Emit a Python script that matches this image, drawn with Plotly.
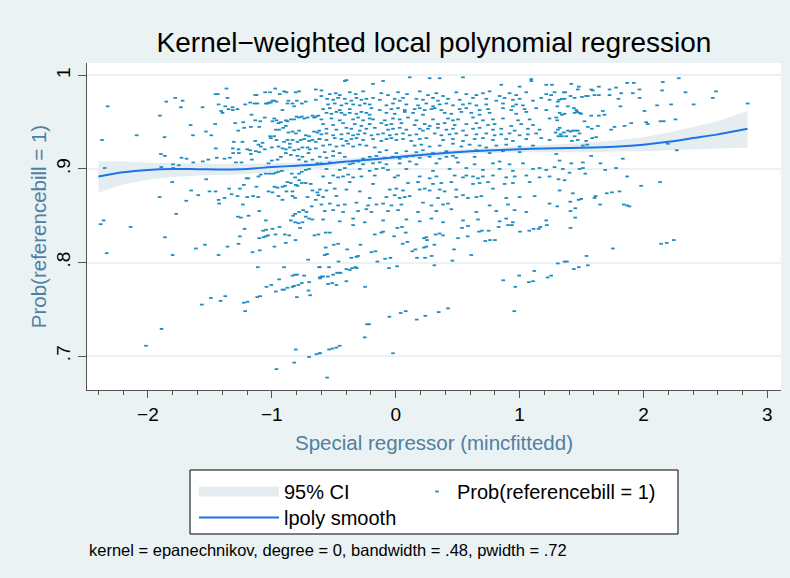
import plotly.graph_objects as go

# ---------------- data ----------------
title_text = "Kernel\u2212weighted local polynomial regression"
x_title = "Special regressor (mincfittedd)"
y_title = "Prob(referencebill = 1)"
note_text = "kernel = epanechnikov, degree = 0, bandwidth = .48, pwidth = .72"

x_tickvals = [-2, -1, 0, 1, 2, 3]
y_tickvals = [0.7, 0.8, 0.9, 1.0]
y_ticktext = [".7", ".8", ".9", "1"]

# lpoly smooth and its 95% CI
grid_x = [-2.40, -2.20, -2.00, -1.80, -1.60, -1.40, -1.20, -1.00, -0.80, -0.60, -0.40, -0.20, 0.00,
          0.20, 0.40, 0.60, 0.80, 1.00, 1.20, 1.40, 1.60, 1.80, 2.00, 2.20, 2.40, 2.60, 2.84]
smooth_y = [0.892, 0.8965, 0.899, 0.900, 0.8998, 0.8995, 0.900, 0.902, 0.9035, 0.905, 0.908, 0.910, 0.9125,
            0.915, 0.917, 0.919, 0.920, 0.921, 0.922, 0.9225, 0.923, 0.924, 0.926, 0.929, 0.933, 0.937, 0.943]
ci_upper = [0.908, 0.908, 0.907, 0.906, 0.906, 0.905, 0.9055, 0.906, 0.907, 0.909, 0.911, 0.913, 0.9155,
            0.918, 0.920, 0.922, 0.923, 0.924, 0.9255, 0.927, 0.929, 0.931, 0.934, 0.939, 0.945, 0.951, 0.962]
ci_lower = [0.8745, 0.8835, 0.8885, 0.8915, 0.893, 0.8935, 0.8945, 0.897, 0.899, 0.901, 0.905, 0.907, 0.9095,
            0.912, 0.914, 0.916, 0.917, 0.918, 0.918, 0.918, 0.918, 0.919, 0.919, 0.920, 0.921, 0.922, 0.923]

# Prob(referencebill = 1) scatter
prob_points = [
    (-2.325,0.967),(-2.371,0.931),(-2.349,0.901),(-2.358,0.845),(-2.382,0.841),
    (-2.091,0.936),(-1.903,0.957),(-1.852,0.972),(-1.780,0.976),(-1.720,0.973),(-1.734,0.966),
    (-1.866,0.934),(-1.895,0.916),(-1.863,0.914),(-1.892,0.902),(-1.804,0.886),(-1.906,0.870),
    (-1.772,0.852),(-1.691,0.866),(-1.651,0.877),(-1.594,0.872),(-1.656,0.947),(-1.637,0.936),
    (-1.729,0.912),(-1.688,0.911),(-1.798,0.905),(-1.750,0.904),(-1.796,0.901),(-1.559,0.966),
    (-1.532,0.940),(-1.489,0.936),(-1.557,0.908),(-1.513,0.910),(-1.634,0.907),(-1.530,0.889),
    (-1.503,0.876),(-1.454,0.876),(-1.457,0.948),(-1.454,0.980),(-1.436,0.980),(-1.452,0.922),
    (-1.444,0.912),(-1.430,0.969),(-1.409,0.962),(-1.398,0.960),(-1.376,0.967),(-1.358,0.976),
    (-1.317,0.966),(-1.350,0.964),(-1.315,0.963),(-1.277,0.964),(-1.366,0.986),(-1.296,0.949),
    (-1.272,0.941),(-1.231,0.950),(-1.307,0.929),(-1.237,0.929),(-1.269,0.921),(-1.266,0.917),
    (-1.312,0.917),(-1.315,0.922),(-1.382,0.911),(-1.339,0.912),(-1.290,0.907),(-1.245,0.907),
    (-1.430,0.867),(-1.425,0.863),(-1.382,0.869),(-1.344,0.879),(-1.325,0.873),(-1.277,0.871),
    (-1.258,0.879),(-1.226,0.883),(-1.204,0.890),(-1.199,0.870),(-1.190,0.890),(-1.234,0.862),
    (-1.151,0.871),(-1.110,0.870),(-1.124,0.881),(-1.161,0.910),(-1.169,0.916),(-1.175,0.920),
    (-1.199,0.921),(-1.129,0.919),(-1.102,0.918),(-1.215,0.969),(-1.175,0.971),(-1.140,0.970),
    (-1.116,0.970),(-1.134,0.979),(-1.124,0.979),(-1.164,0.958),(-1.223,0.944),(-1.169,0.945),
    (-1.134,0.952),(-1.102,0.945),(-1.094,0.951),(-1.057,0.955),(-1.134,0.930),(-1.108,0.926),
    (-1.089,0.924),(-1.075,0.928),(-1.057,0.921),(-1.014,0.935),(-1.008,0.933),(-0.981,0.935),
    (-0.962,0.931),(-0.946,0.924),(-1.000,0.923),(-1.048,0.970),(-1.035,0.970),(-1.022,0.971),
    (-1.008,0.971),(-0.995,0.973),(-0.981,0.973),(-0.962,0.972),(-1.054,0.982),(-1.014,0.982),
    (-0.973,0.986),(-0.936,0.980),(-1.108,0.892),(-1.089,0.894),(-1.048,0.895),(-1.016,0.895),
    (-0.989,0.895),(-0.968,0.896),(-0.946,0.897),(-0.919,0.898),(-1.027,0.906),(-1.000,0.909),
    (-0.954,0.910),(-0.927,0.913),(-0.979,0.881),(-0.954,0.880),(-0.914,0.881),(-0.893,0.882),
    (-0.874,0.886),(-0.847,0.885),(-1.027,0.876),(-0.995,0.875),(-0.946,0.871),(-0.914,0.867),
    (-0.882,0.876),(-0.833,0.871),(-0.807,0.883),(-0.780,0.888),(-1.102,0.855),(-1.048,0.845),
    (-1.274,0.849),(-1.250,0.848),(-1.188,0.850),(-0.828,0.850),(-0.812,0.852),(-0.780,0.854),
    (-0.747,0.856),(-0.720,0.854),(-0.678,0.860),(-0.699,0.847),(-0.672,0.846),(-0.785,0.842),
    (-0.753,0.843),
    (-0.914,0.963),(-0.874,0.970),(-0.866,0.973),(-0.833,0.970),(-0.820,0.967),(-0.798,0.973),
    (-0.780,0.983),(-0.758,0.970),(-0.726,0.972),(-0.645,0.985),(-0.645,0.974),(-0.901,0.983),
    (-0.882,0.982),(-0.807,0.982),
    (-0.995,0.951),(-0.981,0.954),(-0.962,0.952),(-0.946,0.949),(-0.927,0.950),(-0.887,0.952),
    (-0.874,0.951),(-0.847,0.953),(-0.820,0.953),(-0.801,0.956),(-0.780,0.955),(-0.758,0.956),
    (-0.739,0.954),(-0.712,0.955),(-0.672,0.957),(-0.659,0.955),(-0.645,0.956),(-0.624,0.957),
    (-0.968,0.942),(-0.941,0.942),(-0.909,0.944),(-0.887,0.946),(-0.866,0.939),(-0.833,0.940),
    (-0.807,0.938),(-0.780,0.941),(-0.726,0.936),(-0.699,0.935),(-0.659,0.940),(-0.632,0.939),
    (-0.618,0.941),
    (-0.901,0.929),(-0.874,0.931),(-0.855,0.927),(-0.833,0.931),(-0.793,0.929),(-0.766,0.931),
    (-0.739,0.932),(-0.699,0.930),(-0.672,0.931),(-0.645,0.929),(-0.618,0.932),
    (-0.914,0.922),(-0.887,0.921),(-0.855,0.923),(-0.820,0.920),(-0.785,0.921),(-0.753,0.923),
    (-0.712,0.923),(-0.694,0.921),(-0.645,0.922),
    (-0.887,0.917),(-0.847,0.915),(-0.793,0.914),(-0.753,0.913),(-0.704,0.917),
    (-0.780,0.910),(-0.726,0.908),(-0.672,0.910),(-0.632,0.906),
    (-0.839,0.895),(-0.812,0.891),(-0.780,0.895),(-0.758,0.897),(-0.726,0.899),(-0.699,0.900),
    (-0.833,0.876),(-0.793,0.882),(-0.758,0.885),(-0.726,0.885),(-0.686,0.884),(-0.672,0.877),
    (-0.632,0.875),(-0.812,0.869),(-0.712,0.870),(-0.645,0.867),(-0.624,0.872),
    (-0.847,0.845),(-0.812,0.843),(-0.726,0.849),
    # centre block
    (-0.411,0.994),(-0.398,0.995),(-0.183,0.991),(-0.102,0.994),(0.113,0.998),(0.274,0.997),
    (0.355,0.997),(0.543,0.998),(1.094,0.996),(1.094,0.994),(0.852,0.990),(1.000,0.988),
    (1.215,0.990),(1.261,0.990),(-0.600,0.984),
    (-0.600,0.978),(-0.532,0.980),(-0.484,0.981),(-0.452,0.979),(-0.371,0.982),(-0.323,0.980),
    (-0.263,0.983),(-0.116,0.981),(-0.062,0.979),(0.019,0.982),(0.091,0.980),(0.194,0.983),
    (0.261,0.979),(0.328,0.981),(0.382,0.978),(0.489,0.982),(0.570,0.980),(0.651,0.979),
    (0.704,0.981),(0.758,0.983),(0.839,0.978),(0.919,0.981),(0.973,0.979),(1.054,0.982),
    (1.215,0.980),(1.255,0.979),
    (-0.554,0.975),(-0.505,0.974),(-0.465,0.976),(-0.411,0.975),(-0.358,0.973),(-0.317,0.976),
    (-0.277,0.974),(-0.237,0.975),(-0.183,0.976),(-0.129,0.974),(-0.008,0.975),(0.032,0.973),
    (0.059,0.976),(0.167,0.975),(0.220,0.974),(0.301,0.976),(0.341,0.973),(0.422,0.975),
    (0.516,0.974),(0.624,0.976),(0.731,0.975),(0.812,0.973),(0.879,0.976),(0.946,0.974),
    (1.000,0.975),(1.108,0.973),(1.175,0.976),(1.242,0.974),
    (-0.546,0.969),(-0.492,0.970),(-0.438,0.968),(-0.398,0.970),(-0.344,0.969),(-0.290,0.968),
    (-0.250,0.970),(-0.210,0.969),(-0.075,0.968),(-0.022,0.970),(0.086,0.969),(0.180,0.968),
    (0.247,0.970),(0.301,0.967),(0.355,0.969),(0.409,0.970),(0.462,0.968),(0.543,0.969),
    (0.597,0.970),(0.651,0.968),(0.731,0.969),(0.866,0.970),(0.946,0.967),(0.973,0.969),
    (1.027,0.968),
    (-0.586,0.964),(-0.532,0.965),(-0.452,0.963),(-0.371,0.964),(-0.196,0.965),(-0.129,0.963),
    (-0.035,0.964),(0.019,0.965),(0.073,0.963),(0.153,0.964),(0.194,0.965),(0.234,0.963),
    (0.288,0.964),(0.315,0.965),(0.368,0.963),(0.516,0.964),(0.570,0.965),(0.677,0.963),
    (0.745,0.964),(0.866,0.965),(0.933,0.963),(1.040,0.964),(1.134,0.965),(1.215,0.963),
    (-0.559,0.960),(-0.519,0.959),(-0.479,0.961),(-0.438,0.960),(-0.411,0.958),(-0.371,0.960),
    (-0.317,0.959),(-0.277,0.961),(-0.237,0.960),(-0.210,0.958),(-0.075,0.960),(-0.008,0.959),
    (0.073,0.961),(0.140,0.960),(0.220,0.958),(0.395,0.960),(0.449,0.959),(0.530,0.961),
    (0.610,0.960),(0.677,0.958),(0.758,0.960),(0.973,0.959),(1.054,0.961),
    (-0.600,0.953),(-0.519,0.954),(-0.452,0.952),(-0.344,0.953),(-0.304,0.955),(-0.263,0.952),
    (-0.210,0.954),(-0.183,0.953),(-0.089,0.952),(-0.022,0.954),(0.032,0.953),(0.099,0.955),
    (0.167,0.952),(0.301,0.953),(0.422,0.954),(0.462,0.952),(0.503,0.953),(0.624,0.955),
    (0.704,0.952),(0.785,0.953),(0.866,0.954),(0.987,0.952),(1.081,0.953),(1.242,0.954),
    (-0.586,0.948),(-0.505,0.947),(-0.425,0.949),(-0.331,0.948),(-0.277,0.946),(-0.210,0.948),
    (-0.116,0.949),(-0.075,0.947),(-0.035,0.948),(0.046,0.949),(0.153,0.947),(0.234,0.948),
    (0.274,0.946),(0.341,0.948),(0.395,0.949),(0.476,0.947),(0.570,0.948),(0.651,0.949),
    (0.745,0.947),(0.798,0.948),(0.933,0.946),(1.013,0.948),(1.108,0.947),
    (-0.559,0.943),(-0.479,0.942),(-0.398,0.944),(-0.358,0.943),(-0.290,0.941),(-0.237,0.943),
    (-0.169,0.944),(-0.062,0.942),(-0.022,0.943),(0.032,0.944),(0.086,0.942),(0.194,0.943),
    (0.220,0.941),(0.261,0.943),(0.341,0.944),(0.409,0.942),(0.462,0.943),(0.543,0.941),
    (0.624,0.943),(0.677,0.944),(0.785,0.942),(0.852,0.943),(0.960,0.941),(1.067,0.943),
    (1.161,0.942),
    (-0.600,0.937),(-0.559,0.938),(-0.505,0.936),(-0.438,0.937),(-0.384,0.938),(-0.344,0.936),
    (-0.304,0.937),(-0.250,0.938),(-0.196,0.936),(-0.143,0.937),(-0.102,0.938),(-0.048,0.936),
    (0.005,0.937),(0.059,0.938),(0.113,0.936),(0.167,0.937),(0.315,0.938),(0.368,0.936),
    (0.435,0.937),(0.489,0.938),(0.570,0.936),(0.651,0.937),(0.731,0.938),(0.798,0.936),
    (0.852,0.937),(0.919,0.938),(1.000,0.936),(1.067,0.937),(1.134,0.938),
    (-0.613,0.932),(-0.559,0.931),(-0.492,0.933),(-0.438,0.932),(-0.398,0.930),(-0.358,0.932),
    (-0.317,0.933),(-0.263,0.931),(-0.183,0.932),(-0.116,0.930),(-0.075,0.932),(-0.035,0.933),
    (0.005,0.931),(0.059,0.932),(0.126,0.930),(0.194,0.932),(0.247,0.933),(0.382,0.931),
    (0.462,0.932),(0.543,0.930),(0.637,0.932),(0.704,0.933),(0.785,0.931),(0.892,0.932),
    (0.946,0.930),(1.054,0.932),(1.175,0.933),(1.242,0.931),
    (-0.586,0.925),(-0.532,0.926),(-0.479,0.924),(-0.425,0.925),(-0.384,0.927),(-0.344,0.924),
    (-0.290,0.926),(-0.237,0.925),(-0.169,0.923),(0.153,0.925),(0.207,0.926),(0.274,0.924),
    (0.355,0.925),(0.462,0.927),(0.530,0.924),(0.597,0.926),(0.677,0.925),(0.731,0.923),
    (0.812,0.925),(0.892,0.926),(1.000,0.924),(1.108,0.925),
    (-0.573,0.918),(-0.505,0.919),(-0.452,0.917),(-0.129,0.918),(-0.075,0.920),(0.005,0.917),
    (0.086,0.919),(0.167,0.918),(0.220,0.920),(0.301,0.917),(0.409,0.919),(0.516,0.918),
    (0.651,0.920),(0.758,0.917),(0.866,0.919),(1.000,0.918),
    (-0.613,0.913),(-0.559,0.912),(-0.505,0.914),(-0.411,0.913),(-0.263,0.911),(-0.210,0.913),
    (-0.156,0.914),(-0.089,0.912),(-0.022,0.913),(0.032,0.911),(0.086,0.913),(0.140,0.914),
    (0.194,0.912),(0.274,0.913),(0.355,0.911),(0.409,0.913),(0.462,0.914),(0.489,0.912),
    (0.637,0.913),
    (-0.600,0.906),(-0.532,0.907),(-0.371,0.905),(-0.344,0.906),(-0.304,0.908),(-0.263,0.905),
    (-0.183,0.906),(-0.129,0.907),(-0.075,0.905),(0.032,0.906),(0.113,0.908),(0.167,0.905),
    (0.328,0.906),(0.503,0.907),(0.637,0.905),(0.785,0.906),(0.839,0.908),(0.919,0.905),
    (1.027,0.906),
    (-0.559,0.900),(-0.452,0.899),(-0.411,0.901),(-0.290,0.900),(-0.210,0.898),(-0.156,0.900),
    (-0.102,0.901),(-0.062,0.899),(0.086,0.900),(0.301,0.898),(0.435,0.900),(0.570,0.901),
    (0.704,0.899),(0.839,0.900),(0.946,0.898),(1.108,0.900),(1.161,0.901),(1.215,0.899),
    (-0.586,0.892),(-0.505,0.893),(-0.465,0.891),(-0.425,0.892),(-0.384,0.894),(-0.344,0.891),
    (-0.277,0.892),(-0.169,0.893),(-0.008,0.891),(0.019,0.893),(0.194,0.892),(0.274,0.890),
    (0.328,0.892),(0.476,0.893),(0.543,0.891),(0.570,0.893),(0.624,0.892),(0.664,0.890),
    (0.704,0.892),(0.785,0.893),(0.892,0.891),(0.960,0.892),(1.054,0.893),(1.161,0.891),
    (1.242,0.892),
    (-0.532,0.885),(-0.371,0.886),(-0.183,0.884),(0.099,0.885),(0.180,0.886),(0.301,0.884),
    (0.368,0.885),(0.449,0.886),(0.624,0.884),(0.677,0.885),(0.745,0.886),(0.879,0.884),
    (0.946,0.885),(1.081,0.886),
    (-0.613,0.878),(-0.559,0.877),(-0.492,0.879),(-0.398,0.878),(-0.290,0.876),(-0.048,0.878),
    (0.005,0.879),(0.059,0.877),(0.194,0.878),(0.234,0.879),(0.274,0.877),(0.355,0.878),
    (0.395,0.876),(0.489,0.878),(0.785,0.879),
    (-0.586,0.870),(-0.479,0.871),(-0.210,0.869),(-0.075,0.870),(-0.008,0.872),(0.032,0.869),
    (0.073,0.870),(0.113,0.871),(0.341,0.869),(0.489,0.870),(0.543,0.872),(0.583,0.869),
    (0.651,0.870),(0.691,0.871),(0.892,0.869),(1.000,0.870),(1.121,0.871),
    (-0.600,0.862),(-0.532,0.863),(-0.465,0.861),(-0.411,0.862),(-0.317,0.864),(-0.223,0.861),
    (-0.156,0.862),(-0.102,0.863),(-0.035,0.861),(0.046,0.862),(0.220,0.864),(0.288,0.861),
    (0.382,0.862),(0.422,0.863),(0.758,0.861),(0.906,0.862),(1.242,0.863),
    (-0.573,0.855),(-0.505,0.856),(-0.425,0.854),(-0.304,0.855),(-0.237,0.857),(-0.196,0.854),
    (-0.062,0.855),(0.019,0.856),(0.180,0.854),(0.328,0.855),(0.449,0.857),(0.651,0.854),
    (0.812,0.855),(0.960,0.856),(1.054,0.854),
    (-0.586,0.846),(-0.452,0.844),(-0.344,0.847),(-0.250,0.843),(-0.102,0.845),(0.086,0.846),
    (0.194,0.844),(0.288,0.847),(0.382,0.843),(0.543,0.845),(0.664,0.846),(0.839,0.844),
    (0.892,0.847),(0.946,0.843),(1.215,0.845),
    # right block
    (1.282,0.982),(1.357,0.982),(1.368,0.982),(1.417,0.991),(1.470,0.985),(1.478,0.988),
    (1.578,0.985),(1.591,0.984),(1.640,0.988),(1.605,0.979),(1.640,0.979),(1.726,0.985),
    (1.779,0.987),(1.820,0.981),(1.868,0.992),(1.922,0.992),(1.968,0.985),(1.914,0.981),
    (2.156,0.993),(2.150,0.984),(2.285,0.997),(2.339,0.982),(2.586,0.983),(2.559,0.976),
    (2.841,0.970),(2.405,0.969),(2.223,0.969),(2.110,0.968),(2.008,0.962),(1.814,0.967),
    (1.968,0.976),(1.798,0.975),(1.726,0.979),(1.537,0.978),(1.551,0.978),(1.503,0.977),
    (1.444,0.976),(1.411,0.978),(1.363,0.975),(1.341,0.975),(1.320,0.974),(1.309,0.972),
    (1.390,0.967),(1.438,0.965),(1.457,0.963),(1.465,0.961),(1.444,0.960),(1.484,0.960),
    (1.497,0.959),(1.304,0.967),(1.323,0.960),(1.341,0.958),(1.363,0.959),(1.296,0.955),
    (1.304,0.952),(1.578,0.957),(1.640,0.957),(1.672,0.962),(1.685,0.958),(1.524,0.951),
    (1.632,0.946),(1.583,0.943),(1.551,0.945),(1.739,0.942),(1.766,0.945),(1.847,0.946),
    (1.901,0.949),(2.022,0.950),(2.035,0.948),(2.137,0.951),(2.164,0.951),(2.258,0.953),
    (1.323,0.944),(1.309,0.942),(1.290,0.939),(1.390,0.941),(1.411,0.940),(1.430,0.941),
    (1.449,0.941),(1.470,0.941),(1.357,0.939),(1.331,0.937),(1.484,0.938),(1.444,0.935),
    (1.376,0.935),(1.341,0.935),(1.314,0.935),(1.537,0.930),(1.470,0.931),(1.422,0.930),
    (1.586,0.933),(1.618,0.934),(1.511,0.925),(1.546,0.926),(2.196,0.927),(2.269,0.920),
    (1.296,0.916),(1.578,0.914),(1.833,0.911),(1.323,0.909),(1.417,0.906),(1.511,0.907),
    (1.653,0.906),(1.282,0.902),(1.349,0.900),(1.403,0.896),(1.484,0.900),(1.511,0.901),
    (1.691,0.899),(1.779,0.901),(1.530,0.895),(1.868,0.892),(1.314,0.889),(1.363,0.888),
    (1.981,0.882),(2.134,0.886),(1.323,0.877),(1.430,0.874),(1.806,0.876),(1.745,0.875),
    (1.704,0.874),(1.605,0.869),(1.613,0.871),(1.497,0.868),(1.476,0.867),(1.409,0.865),
    (1.650,0.862),(1.841,0.862),(1.868,0.861),(1.887,0.860),(1.304,0.860),(1.449,0.858),
    (1.411,0.855),(1.449,0.848),
    # lower left
    (-2.140,0.838),(-2.333,0.810),(-1.863,0.827),(-1.801,0.808),(-1.613,0.815),(-1.540,0.819),
    (-1.430,0.808),(-1.358,0.817),(-1.269,0.820),(-1.258,0.828),(-1.220,0.836),(-1.156,0.811),
    (-1.097,0.813),(-1.102,0.826),(-1.067,0.827),(-1.048,0.828),(-1.030,0.829),(-1.070,0.834),
    (-1.046,0.835),(-0.995,0.836),(-0.938,0.838),(-0.970,0.830),(-0.895,0.830),(-0.860,0.829),
    (-0.979,0.817),(-0.887,0.821),(-0.809,0.824),(-0.772,0.837),(-0.656,0.829),(-0.624,0.830),
    (-0.707,0.803),(-1.113,0.795),(-0.901,0.795),(-0.618,0.795),(-0.833,0.786),(-0.812,0.787),
    (-0.796,0.787),(-0.739,0.786),(-0.941,0.782),(-0.610,0.783),(-0.758,0.778),(-0.699,0.779),
    (-0.785,0.776),(-0.820,0.775),(-0.833,0.774),(-0.874,0.773),(-0.914,0.771),(-0.901,0.771),
    (-1.005,0.776),(-1.043,0.774),(-0.968,0.769),(-0.704,0.770),(-0.691,0.765),(-0.798,0.763),
    (-1.118,0.763),(-1.094,0.764),(-1.226,0.757),(-1.196,0.758),(-1.215,0.748),(-1.376,0.764),
    (-1.414,0.759),(-1.492,0.762),(-1.565,0.755),(-1.890,0.729),(-2.016,0.711),(-0.807,0.707),
    (-0.699,0.699),(-0.640,0.702),(-0.613,0.703),(-0.820,0.693),(-0.962,0.686),
    # lower centre
    (-0.344,0.840),(-0.565,0.832),(-0.532,0.832),(-0.500,0.819),(-0.465,0.820),(-0.565,0.816),
    (-0.573,0.808),(-0.554,0.809),(-0.613,0.795),(-0.538,0.795),(-0.599,0.785),(-0.586,0.785),
    (-0.613,0.784),(-0.548,0.785),(-0.505,0.787),(-0.473,0.789),(-0.457,0.789),(-0.446,0.789),
    (-0.546,0.777),(-0.513,0.778),(-0.479,0.776),(-0.392,0.814),(-0.358,0.805),(-0.462,0.801),
    (-0.398,0.793),(-0.371,0.792),(-0.352,0.794),(-0.325,0.795),(-0.315,0.794),(-0.398,0.780),
    (-0.317,0.806),(-0.304,0.807),(-0.285,0.819),(-0.196,0.811),(-0.164,0.812),(-0.169,0.830),
    (-0.116,0.832),(-0.102,0.833),(-0.148,0.801),(-0.086,0.804),(-0.043,0.805),(-0.054,0.794),
    (0.011,0.796),(-0.013,0.828),(0.013,0.837),(0.051,0.838),(0.081,0.832),(0.056,0.820),
    (0.094,0.822),(0.134,0.812),(0.159,0.814),(0.172,0.805),(0.228,0.826),(0.247,0.827),
    (0.253,0.824),(0.228,0.816),(0.247,0.817),(0.237,0.805),(0.290,0.807),(0.312,0.819),
    (0.323,0.830),(0.355,0.831),(0.382,0.829),(0.312,0.797),(0.470,0.814),(0.457,0.802),
    (0.503,0.826),(0.535,0.837),(0.583,0.839),(0.581,0.828),(0.610,0.808),(0.672,0.833),
    (0.696,0.834),(0.750,0.834),(0.723,0.823),(0.761,0.824),(0.801,0.824),(0.831,0.838),
    (0.906,0.840),(0.938,0.840),(1.003,0.833),(1.078,0.834),(1.113,0.836),(1.153,0.836),
    (1.167,0.838),(1.220,0.840),(0.868,0.781),(0.997,0.786),(0.965,0.774),(1.075,0.779),
    (1.108,0.780),(1.118,0.791),(1.226,0.784),(1.255,0.786),(-0.247,0.774),(0.957,0.748),
    (0.422,0.751),(0.347,0.747),(0.239,0.743),(0.169,0.739),(0.081,0.748),(0.040,0.746),
    (-0.051,0.742),(-0.231,0.734),(-0.215,0.734),(-0.250,0.720),(-0.452,0.711),(-0.479,0.709),
    (-0.511,0.708),(-0.538,0.707),(-0.613,0.703),(-0.022,0.703),(-0.554,0.677),
    # lower right
    (1.411,0.837),(1.753,0.815),(2.142,0.820),(2.188,0.821),(2.245,0.824),(1.540,0.807),
    (1.309,0.799),(1.363,0.801),(1.382,0.801),(1.438,0.793),(1.478,0.795),(1.551,0.797),
]
prob_x = [p[0] for p in prob_points]
prob_y = [p[1] for p in prob_points]

# ---------------- styles ----------------
FONT = "Liberation Sans, Arial, Helvetica, sans-serif"
BG = "#eaf2f3"
CI_COLOR = "#e5edf0"
PT_COLOR = "#1a8cc1"
LINE_COLOR = "#1c74e6"
AXIS_COLOR = "#555555"
TITLE_BLUE = "#4f80a2"

fig = go.Figure()

fig.add_trace(go.Scatter(
    x=grid_x + grid_x[::-1], y=ci_upper + ci_lower[::-1],
    fill="toself", fillcolor=CI_COLOR, line=dict(width=0, color=CI_COLOR),
    mode="lines", hoverinfo="skip", showlegend=False, name="95% CI band"))

fig.add_trace(go.Scatter(
    x=[None], y=[None], mode="lines", name="95% CI",
    line=dict(color=CI_COLOR, width=19), legend="legend"))

fig.add_trace(go.Scatter(
    x=prob_x, y=prob_y, mode="markers", name="Prob(referencebill = 1)",
    marker=dict(symbol="line-ew", size=2.6, line=dict(width=1.8, color=PT_COLOR), color=PT_COLOR),
    legend="legend2"))

fig.add_trace(go.Scatter(
    x=grid_x, y=smooth_y, mode="lines", name="lpoly smooth",
    line=dict(color=LINE_COLOR, width=2, shape="spline", smoothing=0.8), legend="legend3"))

# pixel geometry of the plot area
L, R, T, B = 87, 781, 63, 390
W, H = 790, 578
pw, ph = R - L, B - T

def px_x(p):
    return (p - L) / pw

def px_y(p):
    return (B - p) / ph

legend_common = dict(xanchor="left", yanchor="top", orientation="v",
                     bgcolor="rgba(0,0,0,0)", borderwidth=0,
                     font=dict(size=20, color="black", family=FONT))

fig.update_layout(
    width=W, height=H,
    margin=dict(l=L, r=W - R, t=T, b=H - B, pad=0),
    paper_bgcolor=BG, plot_bgcolor="white",
    font=dict(family=FONT, color="black"),
    title=dict(text=title_text, x=0.5, xref="paper", xanchor="center",
               y=1 - 42 / H, yref="container", yanchor="middle",
               font=dict(size=28, color="black", family=FONT)),
    xaxis=dict(range=[-2.492, 3.11], tickvals=x_tickvals, showgrid=False, zeroline=False,
               showline=True, linecolor=AXIS_COLOR, linewidth=1,
               ticks="outside", ticklen=7, tickwidth=1, tickcolor=AXIS_COLOR,
               tickfont=dict(size=19, color="black"),
               minor=dict(dtick=0.2, tick0=0, ticks="outside", ticklen=4, tickcolor=AXIS_COLOR, showgrid=False),
               title=dict(text=x_title, font=dict(size=20.5, color=TITLE_BLUE), standoff=11)),
    yaxis=dict(range=[0.6637, 1.0133], tickvals=y_tickvals, ticktext=y_ticktext, tickangle=-90,
               showgrid=True, gridcolor=BG, gridwidth=1.5, zeroline=False,
               showline=True, linecolor=AXIS_COLOR, linewidth=1,
               ticks="outside", ticklen=8, tickwidth=1, tickcolor=AXIS_COLOR,
               tickfont=dict(size=19, color="black"),
               title=dict(text=y_title, font=dict(size=20.5, color=TITLE_BLUE), standoff=1)),
    legend=dict(x=px_x(194), y=px_y(472), itemwidth=80, **legend_common),
    legend2=dict(x=px_x(417), y=px_y(472), itemwidth=30, **legend_common),
    legend3=dict(x=px_x(194), y=px_y(498), itemwidth=80, **legend_common),
    shapes=[dict(type="rect", xref="paper", yref="paper",
                 x0=px_x(190), x1=px_x(678), y0=px_y(534), y1=px_y(470),
                 fillcolor="white", line=dict(color="black", width=1), layer="below")],
    annotations=[dict(text=note_text, xref="paper", yref="paper", x=px_x(87), y=px_y(550),
                      xanchor="left", yanchor="middle", showarrow=False,
                      font=dict(size=16.5, color="black", family=FONT))],
)

fig.write_html("out.html")
